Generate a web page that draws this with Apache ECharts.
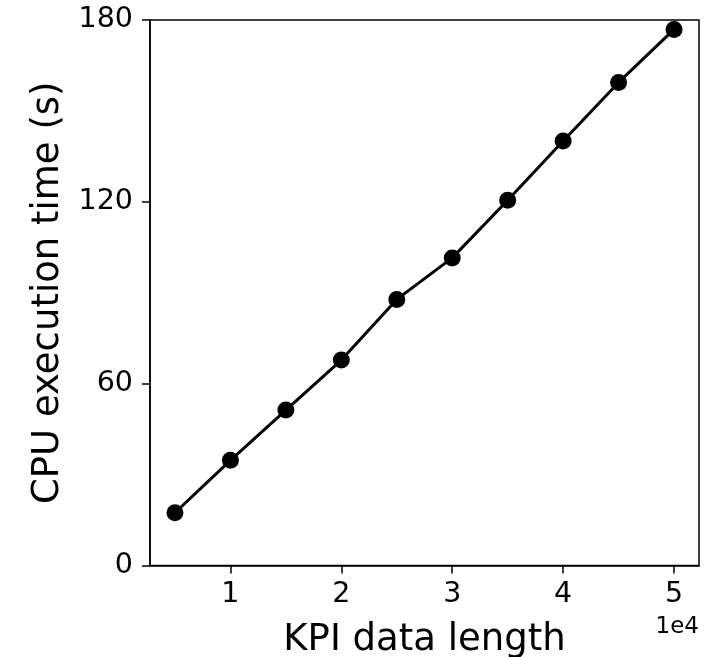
<!DOCTYPE html>
<html>
<head>
<meta charset="utf-8">
<script src="https://cdn.jsdelivr.net/npm/echarts@6/dist/echarts.min.js"></script>
<style>html,body{margin:0;padding:0;background:#fff}#c{width:723px;height:657px}</style>
</head>
<body>
<div id="c"></div>
<script>
const dataLength = [5000, 10000, 15000, 20000, 25000, 30000, 35000, 40000, 45000, 50000];
const cpuTime = [17.4, 34.7, 51.3, 67.8, 87.8, 101.5, 120.5, 140.1, 159.4, 176.9];
const xTicks = [10000, 20000, 30000, 40000, 50000];
const yTicks = [0, 60, 120, 180];
const xLabel = 'KPI data length';
const yLabel = 'CPU execution time (s)';
const offsetText = '1e4';

const font = 'DejaVu Sans';
const chart = echarts.init(document.getElementById('c'), null, {renderer: 'canvas'});
chart.setOption({
  animation: false,
  backgroundColor: '#fff',
  grid: {left: 150, right: 24, top: 20, bottom: 91.5, show: true, borderColor: '#000', borderWidth: 1.5,
    backgroundColor: 'transparent', containLabel: false, outerBoundsMode: 'none'},
  xAxis: {
    type: 'value', min: 2750, max: 52250,
    name: xLabel, nameLocation: 'middle', nameGap: 56,
    nameTextStyle: {fontFamily: font, fontSize: 37, color: '#000'},
    axisLine: {show: true, lineStyle: {color: '#000', width: 1.5}},
    axisTick: {show: true, length: 8, lineStyle: {color: '#000', width: 1.5}, customValues: xTicks},
    axisLabel: {fontFamily: font, fontSize: 28.5, color: '#000', margin: 15, customValues: xTicks,
      formatter: v => String(v / 10000)},
    splitLine: {show: false}
  },
  yAxis: {
    type: 'value', min: 0, max: 180, interval: 60,
    name: yLabel, nameLocation: 'middle', nameGap: 83,
    nameTextStyle: {fontFamily: font, fontSize: 37, color: '#000'},
    axisLine: {show: true, lineStyle: {color: '#000', width: 1.5}},
    axisTick: {show: true, length: 8, lineStyle: {color: '#000', width: 1.5}, customValues: yTicks},
    axisLabel: {fontFamily: font, fontSize: 28.5, color: '#000', margin: 17, customValues: yTicks},
    splitLine: {show: false}
  },
  graphic: [{
    type: 'text', right: 24, top: 616,
    style: {text: offsetText, fontFamily: font, fontSize: 23, fill: '#000', textAlign: 'right'}
  }],
  series: [{
    type: 'line',
    data: dataLength.map((x, i) => [x, cpuTime[i]]),
    symbol: 'circle', symbolSize: 17,
    lineStyle: {color: '#000', width: 3},
    itemStyle: {color: '#000'},
    z: 5
  }]
});
</script>
</body>
</html>
